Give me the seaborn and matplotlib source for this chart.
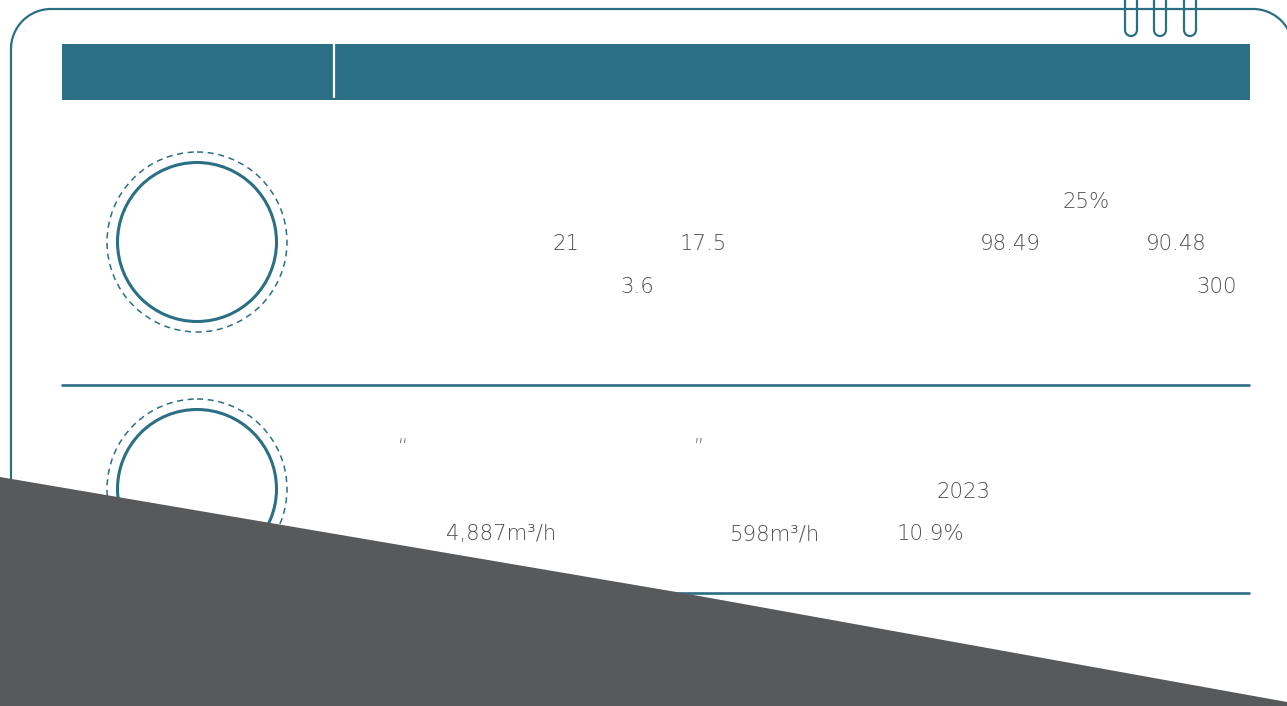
import numpy as np
import matplotlib
matplotlib.use("Agg")
import matplotlib.pyplot as plt
import matplotlib.patches as mpatches
import seaborn as sns

# text values shown on the card
row1_labels = ["25%", "21", "17.5", "98.49", "90.48", "3.6", "300"]
row2_labels = ["“", "”", "2023", "4,887m³/h", "598m³/h", "10.9%"]

# layout (pixels, origin top-left)
row1_pos = [(1062, 208), (552, 250), (680, 250), (980, 250), (1146, 250), (620, 293), (1196, 293)]
row2_pos = [(398, 452), (694, 452), (937, 498), (446, 540), (730, 540), (897, 540)]
circle_centers = [(197, 242), (197, 489)]
divider_y = [384.5, 593]
ring_x = [1131, 1160, 1190]

TEAL = "#2B6F84"
GREY = "#58595B"
TEXT = "#505050"

sns.set_theme(style="white")
plt.rcParams['font.family'] = ['DejaVu Sans']

W, H = 1287, 706
fig = plt.figure(figsize=(W / 100, H / 100), dpi=100)
ax = fig.add_axes([0, 0, 1, 1])
ax.set_xlim(0, W)
ax.set_ylim(H, 0)
ax.axis('off')

# card outline: rounded top corners, sides run off the bottom
L, T, R, rad = 11, 9, 1293, 40
lw_card = 1.6
ax.plot([L, L], [T + rad, H + 10], color=TEAL, lw=lw_card)
ax.plot([R, R], [T + rad, H + 10], color=TEAL, lw=lw_card)
ax.plot([L + rad, R - rad], [T, T], color=TEAL, lw=lw_card)
ax.add_patch(mpatches.Arc((L + rad, T + rad), 2 * rad, 2 * rad, theta1=180, theta2=270,
                          color=TEAL, lw=lw_card))
ax.add_patch(mpatches.Arc((R - rad, T + rad), 2 * rad, 2 * rad, theta1=270, theta2=360,
                          color=TEAL, lw=lw_card))

# binder rings
for c in ring_x:
    ax.plot([c - 6, c - 6], [-3, 30], color=TEAL, lw=1.6, solid_capstyle='butt')
    ax.plot([c + 6, c + 6], [-3, 30], color=TEAL, lw=1.6, solid_capstyle='butt')
    ax.add_patch(mpatches.Arc((c, 30), 12, 12, theta1=0, theta2=180, color=TEAL, lw=1.6))

# header band
ax.add_patch(mpatches.Rectangle((62, 44), 1188, 56, facecolor=TEAL, edgecolor='none'))
ax.plot([333.5, 333.5], [44, 97], color='white', lw=1.6)

# circles
for cx, cy in circle_centers:
    ax.add_patch(mpatches.Circle((cx, cy), 79.5, fill=False, edgecolor=TEAL, lw=2.2))
    ax.add_patch(mpatches.Circle((cx, cy), 90, fill=False, edgecolor=TEAL, lw=1.1,
                                 linestyle=(0, (4, 3))))

# dividers
for y in divider_y:
    ax.plot([62, 1249], [y, y], color=TEAL, lw=1.9)

# numbers
for lab, (x, y) in zip(row1_labels, row1_pos):
    ax.text(x, y, lab, ha='left', va='baseline', fontsize=15.3, color=TEXT, fontweight='light')
for lab, (x, y) in zip(row2_labels, row2_pos):
    fs = 14 if lab in ("“", "”") else 15.3
    ax.text(x, y, lab, ha='left', va='baseline', fontsize=fs, color=TEXT, fontweight='light')

# grey wedge at the bottom
ax.add_patch(mpatches.Polygon([(0, 477), (688, 594), (W, 702), (W, H + 5), (0, H + 5)],
                              closed=True, facecolor=GREY, edgecolor='none', zorder=10))

fig.savefig("out.png", dpi=100)
